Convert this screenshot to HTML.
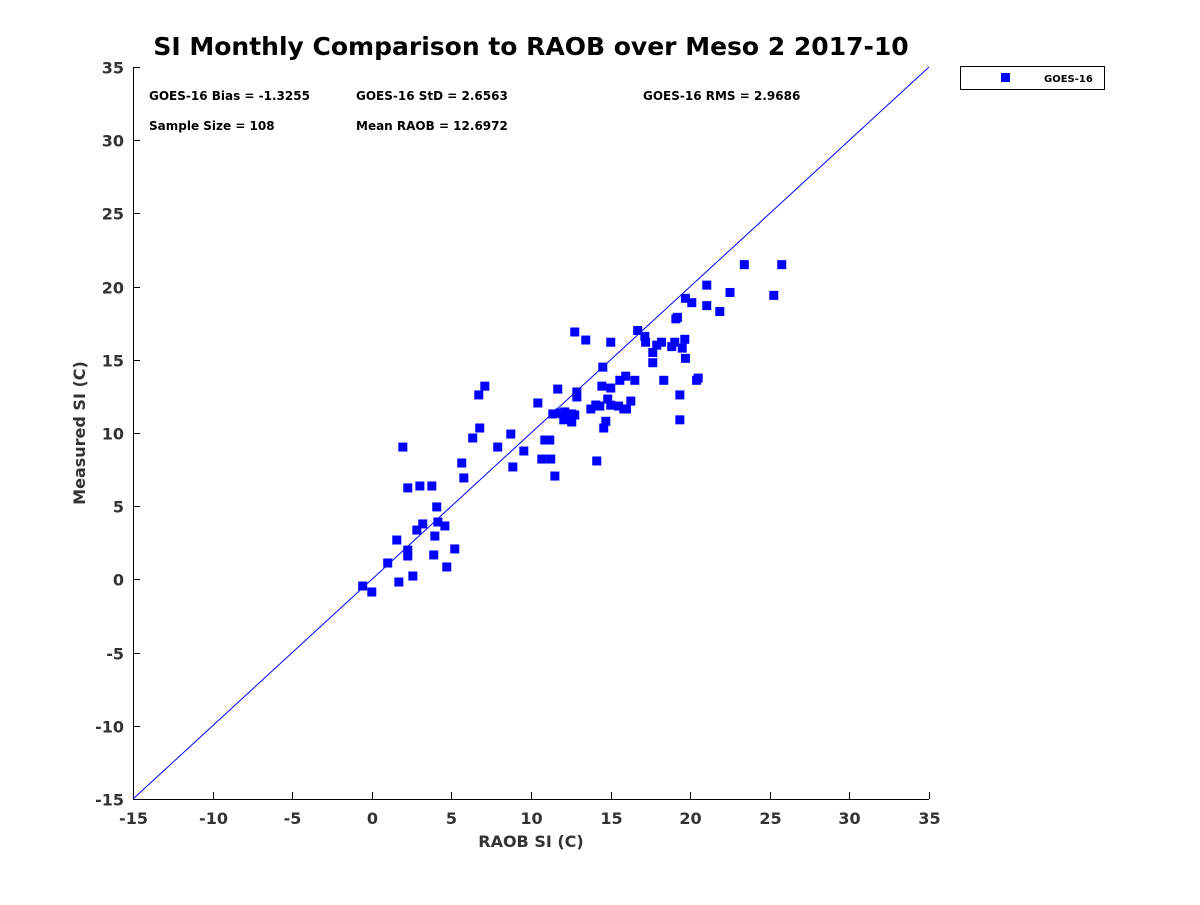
<!DOCTYPE html>
<html><head><meta charset="utf-8"><style>
body{margin:0;background:#fff;font-family:"Liberation Sans","DejaVu Sans",sans-serif;}
svg text{font-family:"DejaVu Sans","Liberation Sans",sans-serif;}
</style></head><body>
<svg id="chart" width="1200" height="900" xmlns="http://www.w3.org/2000/svg">
<rect width="1200" height="900" fill="#fff"/>
<text x="531" y="55" text-anchor="middle" font-size="25" font-weight="bold" fill="#000">SI Monthly Comparison to RAOB over Meso 2 2017-10</text>
<g id="axes"></g>
<g id="marks"></g>
<g font-size="12" font-weight="bold" fill="#000">
<text x="149" y="100">GOES-16 Bias = -1.3255</text>
<text x="356" y="100">GOES-16 StD = 2.6563</text>
<text x="643" y="100">GOES-16 RMS = 2.9686</text>
<text x="149" y="130">Sample Size = 108</text>
<text x="356" y="130">Mean RAOB = 12.6972</text>
</g>
<g>
<rect x="960.5" y="66.5" width="144" height="23" fill="#fff" stroke="#000" stroke-width="1"/>
<rect x="1001" y="73" width="9" height="9" fill="#0000ff"/>
<text x="1044" y="82" font-size="10" font-weight="bold">GOES-16</text>
</g>
<text x="531" y="847" text-anchor="middle" font-size="16" font-weight="bold" fill="#333">RAOB SI (C)</text>
<text transform="translate(85,433) rotate(-90)" text-anchor="middle" font-size="16" font-weight="bold" fill="#333">Measured SI (C)</text>
</svg>
<script>
const xTicks=[-15,-10,-5,0,5,10,15,20,25,30,35];
const yTicks=[-15,-10,-5,0,5,10,15,20,25,30,35];
const raob=[-0.57,0.0,1.0,1.57,1.7,1.95,2.26,2.26,2.26,2.58,2.83,3.02,3.2,3.77,3.89,3.96,4.08,4.15,4.59,4.71,5.21,5.65,5.78,6.34,6.72,6.78,7.1,7.91,8.73,8.86,9.55,10.43,10.68,10.87,11.18,11.24,11.5,11.37,11.68,11.81,12.0,12.06,12.12,12.31,12.56,12.75,12.56,12.75,12.88,12.88,13.44,13.76,14.07,14.13,14.32,14.45,14.51,14.57,14.7,14.82,15.01,15.01,15.01,15.5,15.58,15.83,15.95,16.0,16.27,16.52,16.7,17.15,17.2,17.65,17.65,17.9,18.2,18.34,18.84,19.03,19.1,19.2,19.35,19.35,19.5,19.66,19.7,19.7,20.1,20.4,20.5,21.04,21.04,21.86,22.5,23.4,25.25,25.75];
const measured=[-0.45,-0.86,1.12,2.69,-0.18,9.04,6.25,2.0,1.6,0.23,3.37,6.38,3.79,6.38,1.67,2.96,4.95,3.92,3.65,0.85,2.08,7.95,6.93,9.66,12.6,10.34,13.2,9.04,9.93,7.68,8.77,12.05,8.22,9.52,9.52,8.22,7.06,11.3,13.0,11.37,11.3,10.9,11.44,11.3,11.3,11.23,10.75,16.9,12.8,12.46,16.35,11.64,11.91,8.09,11.84,13.2,14.5,10.34,10.8,12.32,13.07,16.2,11.9,11.84,13.6,11.64,13.88,11.64,12.18,13.6,17.0,16.6,16.2,15.5,14.8,16.0,16.2,13.6,15.9,16.2,17.8,17.9,10.9,12.6,15.8,16.4,15.1,19.2,18.9,13.6,13.75,20.1,18.7,18.3,19.6,21.5,19.4,21.5];
const NS="http://www.w3.org/2000/svg";
const X0=133,X1=929,Y0=799,Y1=67;
const sx=v=>X0+(v+15)/50*(X1-X0);
const sy=v=>Y0-(v+15)/50*(Y0-Y1);
function mk(tag,attrs,parent){const e=document.createElementNS(NS,tag);for(const k in attrs)e.setAttribute(k,attrs[k]);parent.appendChild(e);return e;}
const axes=document.getElementById('axes');
let ax=mk('line',{x1:X0,y1:Y0+0.5,x2:X1,y2:Y0+0.5,stroke:'#000','stroke-width':1},axes);


let ay=mk('line',{x1:X0+0.5,y1:Y0,x2:X0+0.5,y2:Y1,stroke:'#000','stroke-width':1},axes);


xTicks.forEach(t=>{const x=Math.round(sx(t))+0.5;
 mk('line',{x1:x,y1:Y0,x2:x,y2:Y0-7,stroke:'#000'},axes);
 const tx=mk('text',{x:x,y:Y0+25,'text-anchor':'middle','font-size':16,'font-weight':'bold',fill:'#333'},axes);
 tx.textContent=t;
 
 });
yTicks.forEach(t=>{const y=Math.round(sy(t))+0.5;
 mk('line',{x1:X0,y1:y,x2:X0+7,y2:y,stroke:'#000'},axes);
 const tx=mk('text',{x:X0-9,y:y+6,'text-anchor':'end','font-size':16,'font-weight':'bold',fill:'#333'},axes);
 tx.textContent=t;
 
 });
const marks=document.getElementById('marks');
const ref=mk('line',{x1:sx(-15),y1:sy(-15),x2:sx(35),y2:sy(35),stroke:'#0000ff','stroke-width':1},marks);


raob.forEach((r,i)=>{const p=mk('rect',{x:sx(r)-4.5,y:sy(measured[i])-4.5,width:9,height:9,fill:'#0000ff'},marks);
 
 });
</script>
</body></html>
